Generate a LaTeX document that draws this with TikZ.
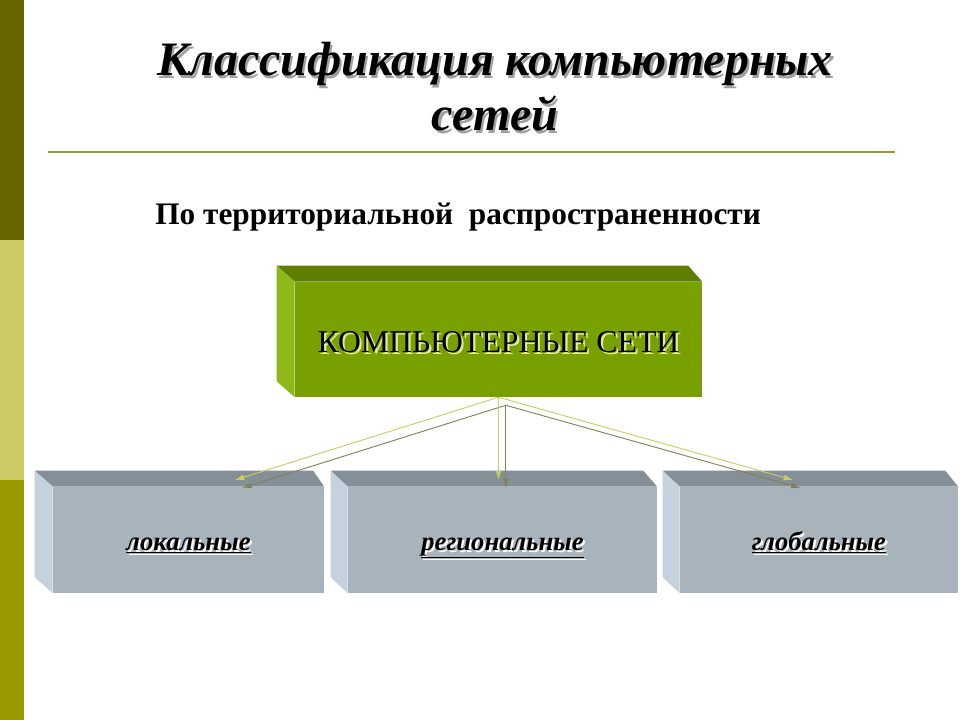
\documentclass[tikz,border=0pt]{standalone}
\usepackage{fontspec}
\setmainfont{Liberation Serif}
\usetikzlibrary{arrows.meta,calc}

\definecolor{barTop}{RGB}{102,102,0}
\definecolor{barMid}{RGB}{204,204,102}
\definecolor{barLow}{RGB}{153,153,0}
\definecolor{ruleOlive}{RGB}{153,153,51}
\definecolor{greenFront}{RGB}{120,160,0}
\definecolor{greenTop}{RGB}{94,126,0}
\definecolor{greenSide}{RGB}{142,184,26}
\definecolor{greyFront}{RGB}{169,179,187}
\definecolor{greyTop}{RGB}{132,143,152}
\definecolor{greySide}{RGB}{197,210,222}
\definecolor{linkLight}{RGB}{204,204,102}
\definecolor{linkDark}{RGB}{130,130,90}
\definecolor{titleShade}{RGB}{160,160,160}
\definecolor{textGlow}{RGB}{230,235,160}

% text with a shadow copy under it
\newcommand\shtext[2]{\rlap{\kern1.6pt\raisebox{-1.6pt}{\color{#1}#2}}#2}
% top and left faces of a box: node, top colour, side colour, back shift left, back shift right
\newcommand\boxfaces[5]{%
  \fill[#2] (#1.north west) -- ++(#4,-16) -- ($(#1.north east)+(#5,-16)$) -- (#1.north east) -- cycle;
  \fill[#3] (#1.north west) -- ++(#4,-16) -- ($(#1.south west)+(#4,-16)$) -- (#1.south west) -- cycle;
}

\tikzset{
  titletext/.style={inner sep=0pt, font=\fontsize{36}{40}\selectfont\bfseries\itshape},
  subtext/.style={inner sep=0pt, font=\fontsize{23.5}{28}\selectfont\bfseries},
  greenbox/.style={fill=greenFront, inner sep=0pt, minimum width=305.25pt,
    minimum height=86.25pt, text height=24pt, text depth=5.2pt,
    font=\fontsize{23.8}{26}\selectfont},
  greybox/.style={fill=greyFront, inner sep=0pt, minimum height=79.5pt,
    text height=20pt, text depth=5pt,
    font=\fontsize{20}{24}\selectfont\bfseries\itshape},
  link/.style={draw=linkLight, line width=0.7pt, -{Latex[length=7pt,width=4.5pt]}},
  linkshade/.style={link, draw=linkDark, transform canvas={shift={(5.5pt,-6pt)}}}
}

\begin{document}
\begin{tikzpicture}[x=0.75pt, y=-0.75pt]
\useasboundingbox (0,0) rectangle (960,720);
% side bar
\fill[barTop] (0,0) rectangle (24,240);
\fill[barMid] (0,240) rectangle (24,480);
\fill[barLow] (0,480) rectangle (24,720);

\node[titletext, anchor=base] (title1) at (495,76) {\shtext{titleShade}{Классификация компьютерных}};
\node[titletext, anchor=base] (title2) at (495,131) {\shtext{titleShade}{сетей}};
\draw[ruleOlive, line width=1.5pt] (48,152) -- (895,152);

\node[subtext, anchor=base west] (sub) at (155,225) {По территориальной~ распространенности};

% boxes
\node[greenbox] (net) at (498.5,339.5) {\shtext{textGlow}{КОМПЬЮТЕРНЫЕ СЕТИ}};
\boxfaces{net}{greenTop}{greenSide}{-18}{-14}

\node[greybox, minimum width=203.25pt] (loc) at (188.5,540) {\shtext{white}{\underline{локальные}}};
\node[greybox, minimum width=231.75pt] (reg) at (502.5,540) {\shtext{white}{\underline{региональные}}};
\node[greybox, minimum width=208.5pt] (glob) at (819,540) {\shtext{white}{\underline{глобальные}}};
\boxfaces{loc}{greyTop}{greySide}{-18}{-11}
\boxfaces{reg}{greyTop}{greySide}{-17}{-14}
\boxfaces{glob}{greyTop}{greySide}{-17}{-13}

% arrows
\coordinate (locin) at (235,480);
\coordinate (regin) at (498.5,480);
\coordinate (globin) at (793,480);
\foreach \t in {locin,regin,globin} {
  \draw[linkshade] (net.south) -- (\t);
  \draw[link] (net.south) -- (\t);
}
\end{tikzpicture}
\end{document}
